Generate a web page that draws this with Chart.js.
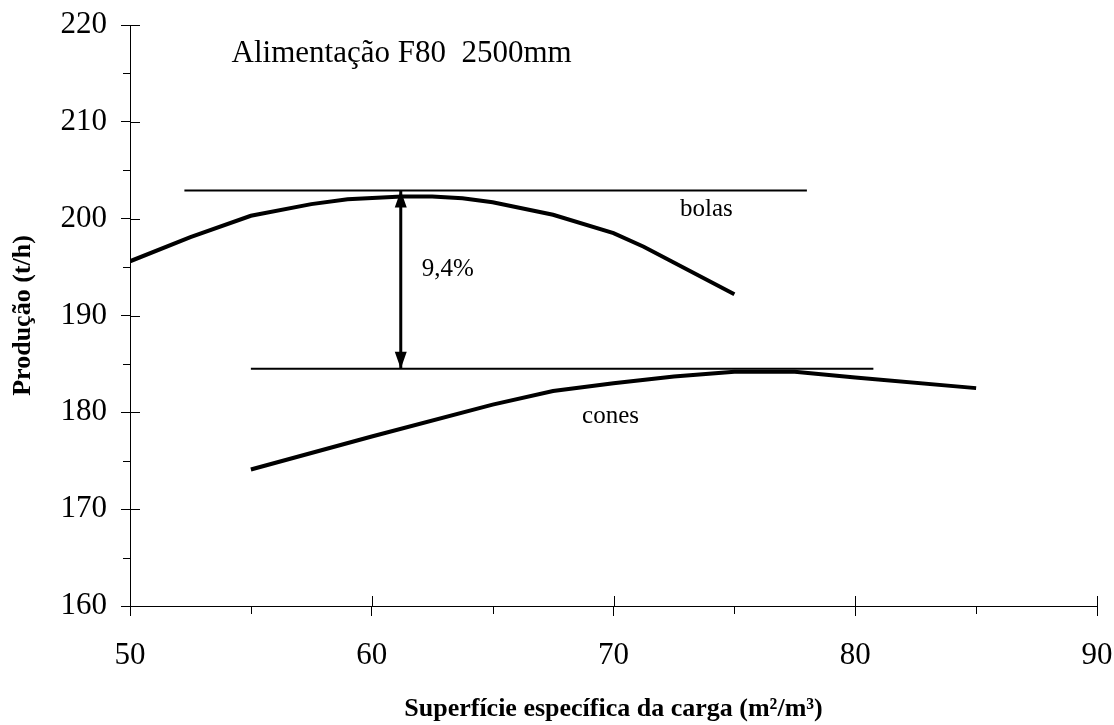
<!DOCTYPE html>
<html>
<head>
<meta charset="utf-8">
<script src="https://cdn.jsdelivr.net/npm/chart.js@4"></script>
<style>
  body { margin: 0; background: #fff; }
  #wrap { width: 1114px; height: 725px; }
</style>
</head>
<body>
<div id="wrap"><canvas id="grafico" width="1114" height="725"></canvas></div>
<script>
// dados
const bolasX = [50, 52.5, 55, 57.5, 59, 61.25, 62.5, 63.75, 65, 67.5, 70, 71.25, 75];
const bolasY = [195.6, 198.1, 200.3, 201.5, 202.0, 202.3, 202.3, 202.1, 201.7, 200.4, 198.5, 197.1, 192.2];
const conesX = [55, 60, 65, 67.5, 70, 72.5, 75, 77.5, 80, 85];
const conesY = [174.1, 177.5, 180.8, 182.2, 183.0, 183.7, 184.2, 184.2, 183.6, 182.5];

// linhas de referência e seta
const refBolasX = [52.25, 78];
const refBolasY = [202.9, 202.9];
const refConesX = [55, 80.75];
const refConesY = [184.5, 184.5];
const setaX = [61.2, 61.2];
const setaY = [202.9, 184.5];

const xTicks = [50, 60, 70, 80, 90];
const yTicks = [160, 170, 180, 190, 200, 210, 220];

const textoTitulo = "Alimentação F80  2500mm";
const textoY = "Produção (t/h)";
const textoX = "Superfície específica da carga (m²/m³)";

function pontos(xs, ys) {
    return xs.map((x, i) => ({ x: x, y: ys[i] }));
}

Chart.defaults.font.family = "'Liberation Serif', 'Times New Roman', serif";
Chart.defaults.color = "#000";

// ticks internos, ticks menores, pontas da seta e textos
const extras = {
    id: "extras",
    afterDatasetsDraw(chart) {
        const ctx = chart.ctx;
        const xs = chart.scales.x;
        const ys = chart.scales.y;
        const x0 = xs.getPixelForValue(50);
        const y0 = ys.getPixelForValue(160);

        ctx.save();
        ctx.strokeStyle = "#000";
        ctx.lineWidth = 1;
        ctx.beginPath();
        xTicks.forEach(v => {
            const px = Math.round(xs.getPixelForValue(v)) + 0.5;
            ctx.moveTo(px, y0);
            ctx.lineTo(px, y0 - 10);
            if (v < 90) {
                const pm = Math.round(xs.getPixelForValue(v + 5)) + 0.5;
                ctx.moveTo(pm, y0);
                ctx.lineTo(pm, y0 + 8);
            }
        });
        yTicks.forEach(v => {
            const py = Math.round(ys.getPixelForValue(v)) + 0.5;
            ctx.moveTo(x0, py);
            ctx.lineTo(x0 + 10, py);
            if (v < 220) {
                const pm = Math.round(ys.getPixelForValue(v + 5)) + 0.5;
                ctx.moveTo(x0, pm);
                ctx.lineTo(x0 - 7, pm);
            }
        });
        ctx.stroke();

        // pontas da seta
        const ax = xs.getPixelForValue(setaX[0]);
        const aTop = ys.getPixelForValue(setaY[0]);
        const aBot = ys.getPixelForValue(setaY[1]);
        ctx.fillStyle = "#000";
        ctx.beginPath();
        ctx.moveTo(ax, aTop);
        ctx.lineTo(ax - 6, aTop + 17);
        ctx.lineTo(ax + 6, aTop + 17);
        ctx.closePath();
        ctx.moveTo(ax, aBot);
        ctx.lineTo(ax - 6, aBot - 17);
        ctx.lineTo(ax + 6, aBot - 17);
        ctx.closePath();
        ctx.fill();

        // textos
        ctx.textBaseline = "alphabetic";
        ctx.textAlign = "left";
        ctx.font = "31px 'Liberation Serif', serif";
        ctx.fillText(textoTitulo, xs.getPixelForValue(54.2), ys.getPixelForValue(216.2));
        ctx.font = "25px 'Liberation Serif', serif";
        ctx.fillText("bolas", xs.getPixelForValue(72.75), ys.getPixelForValue(200.3));
        ctx.fillText("cones", xs.getPixelForValue(68.7), ys.getPixelForValue(178.9));
        ctx.fillText("9,4%", xs.getPixelForValue(62.07), ys.getPixelForValue(194.1));
        ctx.restore();
    }
};

const linha = (xs, ys, largura) => ({
    data: pontos(xs, ys),
    showLine: true,
    borderColor: "#000",
    borderWidth: largura,
    pointRadius: 0,
    tension: 0,
    fill: false
});

new Chart(document.getElementById("grafico"), {
    type: "scatter",
    data: {
        datasets: [
            linha(bolasX, bolasY, 4),
            linha(conesX, conesY, 4),
            linha(refBolasX, refBolasY, 2),
            linha(refConesX, refConesY, 2),
            linha(setaX, setaY, 3)
        ]
    },
    options: {
        responsive: false,
        animation: false,
        devicePixelRatio: 1,
        layout: { padding: { top: 25, right: 17, bottom: 0, left: 0 } },
        plugins: { legend: { display: false }, tooltip: { enabled: false } },
        scales: {
            x: {
                type: "linear",
                min: 50,
                max: 90,
                afterFit: s => { s.height = 119; s.paddingLeft = 0; s.paddingRight = 0; },
                ticks: { stepSize: 10, padding: 21, font: { size: 31 } },
                grid: { drawOnChartArea: false, tickLength: 10, color: "#000" },
                border: { color: "#000", width: 1 },
                title: {
                    display: true,
                    text: textoX,
                    font: { size: 26, weight: "bold" },
                    padding: { top: 0, bottom: 0 }
                }
            },
            y: {
                min: 160,
                max: 220,
                afterFit: s => { s.width = 130; s.paddingTop = 0; s.paddingBottom = 0; },
                ticks: { stepSize: 10, padding: 14, font: { size: 31 } },
                grid: { drawOnChartArea: false, tickLength: 9, color: "#000" },
                border: { color: "#000", width: 1 },
                title: {
                    display: true,
                    text: textoY,
                    font: { size: 26, weight: "bold" },
                    padding: { top: 8, bottom: 0 }
                }
            }
        }
    },
    plugins: [extras]
});
</script>
</body>
</html>
